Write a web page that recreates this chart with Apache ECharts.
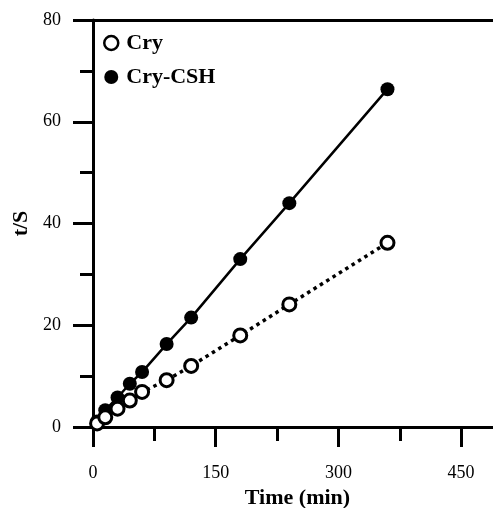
<!DOCTYPE html>
<html>
<head>
<meta charset="utf-8">
<script src="https://cdn.jsdelivr.net/npm/echarts@6/dist/echarts.min.js"></script>
<style>
  html, body { margin: 0; padding: 0; background: #fff; }
  #chart { width: 493px; height: 508px; }
</style>
</head>
<body>
<div id="chart"></div>
<script>
const times = [5, 15, 30, 45, 60, 90, 120, 180, 240, 360]
const cry = [0.7, 1.9, 3.6, 5.2, 6.9, 9.2, 12.0, 18.0, 24.1, 36.2]
const cryCsh = [1.1, 3.3, 5.8, 8.5, 10.8, 16.3, 21.5, 33.0, 44.0, 66.4]
const xTicks = [0, 150, 300, 450]
const yTicks = [0, 20, 40, 60, 80]

const font = 'Liberation Serif, Times New Roman, serif'

const pairs = (xs, ys) => xs.map((x, i) => [x, ys[i]])

const chart = echarts.init(document.getElementById('chart'))

const option = {
  animation: false,
  backgroundColor: '#fff',
  grid: {
    left: 93,
    top: 20,
    height: 407,
    width: 409,
    containLabel: false,
    outerBoundsMode: 'none'
  },
  legend: {
    orient: 'vertical',
    left: 98,
    top: 27,
    itemWidth: 14,
    itemHeight: 14,
    itemGap: 12,
    textStyle: { fontFamily: font, fontWeight: 'bold', fontSize: 22, color: '#000', padding: [0, 0, 0, 3] },
    data: [
      { name: 'Cry', icon: 'circle', itemStyle: { color: '#fff', borderColor: '#000', borderWidth: 2.5 } },
      { name: 'Cry-CSH', icon: 'circle', itemStyle: { color: '#000' } }
    ]
  },
  xAxis: [
    {
      type: 'value',
      position: 'bottom',
      min: 0,
      max: 500,
      interval: 150,
      name: 'Time (min)',
      nameLocation: 'middle',
      nameGap: 49,
      nameTextStyle: { fontFamily: font, fontWeight: 'bold', fontSize: 22, color: '#000' },
      axisLine: { lineStyle: { color: '#000', width: 3 } },
      axisTick: { length: 20, lineStyle: { color: '#000', width: 3 } },
      axisLabel: {
        margin: 37,
        showMaxLabel: false,
        fontFamily: font,
        fontSize: 18,
        color: '#000',
        formatter: v => (xTicks.includes(v) ? String(v) : '')
      },
      splitLine: { show: false }
    },
    {
      // minor ticks only
      type: 'value',
      position: 'bottom',
      min: 0,
      max: 500,
      interval: 75,
      axisLine: { show: false },
      axisTick: { length: 14, lineStyle: { color: '#000', width: 3 } },
      axisLabel: { show: false },
      splitLine: { show: false }
    },
    {
      // top frame line
      type: 'value',
      position: 'top',
      min: 0,
      max: 500,
      axisLine: { lineStyle: { color: '#000', width: 3 } },
      axisTick: { show: false },
      axisLabel: { show: false },
      splitLine: { show: false }
    }
  ],
  yAxis: {
    type: 'value',
    min: 0,
    max: 80,
    interval: 20,
    name: 't/S',
    nameLocation: 'middle',
    nameGap: 47,
    nameRotate: 90,
    nameTextStyle: { fontFamily: font, fontWeight: 'bold', fontSize: 22, color: '#000' },
    axisLine: { lineStyle: { color: '#000', width: 3 } },
    axisTick: { length: 20, lineStyle: { color: '#000', width: 3 } },
    minorTick: { show: true, splitNumber: 2, length: 13, lineStyle: { color: '#000', width: 3 } },
    axisLabel: {
      margin: 32,
      fontFamily: font,
      fontSize: 18,
      color: '#000',
      formatter: v => (yTicks.includes(v) ? String(v) : '')
    },
    splitLine: { show: false }
  },
  series: [
    {
      name: 'Cry-CSH',
      type: 'line',
      xAxisIndex: 0,
      data: pairs(times, cryCsh),
      symbol: 'circle',
      symbolSize: 14,
      z: 2,
      itemStyle: { color: '#000' },
      lineStyle: { color: '#000', width: 2.5 }
    },
    {
      name: 'Cry',
      type: 'line',
      xAxisIndex: 0,
      data: pairs(times, cry),
      symbol: 'circle',
      symbolSize: 13,
      z: 3,
      itemStyle: { color: '#fff', borderColor: '#000', borderWidth: 3 },
      lineStyle: { color: '#000', width: 3.5, type: [3.5, 4] }
    }
  ]
}

chart.setOption(option)
</script>
</body>
</html>
